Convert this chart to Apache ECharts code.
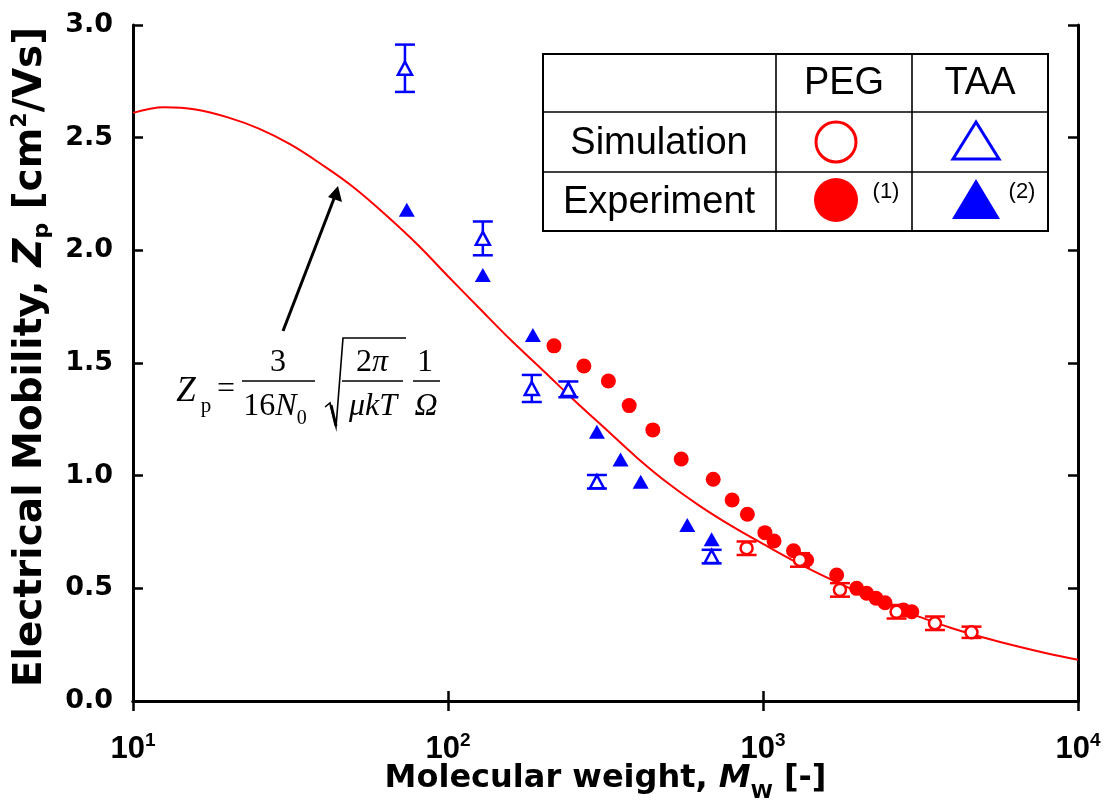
<!DOCTYPE html>
<html><head><meta charset="utf-8">
<script src="https://cdn.jsdelivr.net/npm/echarts@6/dist/echarts.min.js"></script>
<style>html,body{margin:0;padding:0;background:#fff}#c{width:1109px;height:806px}</style>
</head><body><div id="c"></div>
<script>
// ---- data ----
const curveMw = [10, 12.6, 15.8, 20, 25.1, 31.6, 39.8, 50.1, 63.1, 79.4, 100, 126, 158, 200, 251, 316, 398, 501, 631, 794, 1000, 1259, 1585, 1995, 2512, 3162, 3981, 5012, 6310, 7943, 10000];
const curveZp = [2.61, 2.635, 2.625, 2.59, 2.54, 2.47, 2.38, 2.28, 2.16, 2.03, 1.885, 1.742, 1.603, 1.468, 1.336, 1.208, 1.08, 0.965, 0.865, 0.777, 0.697, 0.62, 0.55, 0.485, 0.425, 0.372, 0.323, 0.282, 0.245, 0.212, 0.183];

const pegExpMw = [217, 270, 323, 376, 447, 550, 695, 798, 892, 1014, 1084, 1250, 1376, 1713, 1983, 2133, 2285, 2440, 2790, 2967];
const pegExpZp = [1.576, 1.487, 1.420, 1.311, 1.203, 1.074, 0.984, 0.892, 0.829, 0.747, 0.710, 0.667, 0.626, 0.559, 0.500, 0.478, 0.456, 0.436, 0.404, 0.396];

const pegSimMw = [887, 1310, 1755, 2655, 3515, 4590];
const pegSimZp = [0.678, 0.626, 0.493, 0.396, 0.345, 0.305];
const pegSimErr = [0.03, 0.03, 0.03, 0.03, 0.03, 0.025];

const taaSimMw = [73, 129, 184.5, 241, 297, 687];
const taaSimZp = [2.808, 2.053, 1.387, 1.383, 0.973, 0.641];
const taaSimErr = [0.105, 0.075, 0.06, 0.035, 0.03, 0.03];

const taaExpMw = [74, 129, 186, 241, 297, 353, 409, 575, 687];
const taaExpZp = [2.18, 1.891, 1.624, 1.387, 1.195, 1.072, 0.973, 0.781, 0.718];

// ---- build ----
const zip = (a, b, c) => a.map((v, i) => c ? [v, b[i], c[i]] : [v, b[i]]);
const RED = '#ff0000', BLUE = '#0000ff';
const AX = 'DejaVu Sans';
const LS = 'Liberation Sans';

function errBar(color) {
  return function (params, api) {
    const x = api.value(0), y = api.value(1), e = api.value(2);
    const t = api.coord([x, y + e]), b = api.coord([x, y - e]);
    const hw = 10;
    const st = { stroke: color, lineWidth: 2.5 };
    return { type: 'group', children: [
      { type: 'line', shape: { x1: t[0], y1: t[1], x2: b[0], y2: b[1] }, style: st },
      { type: 'line', shape: { x1: t[0] - hw, y1: t[1], x2: t[0] + hw, y2: t[1] }, style: st },
      { type: 'line', shape: { x1: b[0] - hw, y1: b[1], x2: b[0] + hw, y2: b[1] }, style: st }
    ] };
  };
}

const axLine = { show: true, lineStyle: { color: '#000', width: 3 } };
const axTick = { show: true, inside: true, length: 10, lineStyle: { color: '#000', width: 2.5 } };

const chart = echarts.init(document.getElementById('c'));

const T = (x, y, text, font, extra) => ({
  type: 'text', x: x, y: y,
  style: Object.assign({ text: text, font: font, fill: '#000', align: 'center', verticalAlign: 'middle' }, extra || {})
});
const L = (x1, y1, x2, y2, w) => ({ type: 'line', shape: { x1, y1, x2, y2 }, style: { stroke: '#000', lineWidth: w } });

const SF = '"Liberation Serif"';
const serif = '32px ' + SF;
const serifI = 'italic 32px ' + SF;
const frRich = {
  i: { fontFamily: SF, fontStyle: 'italic', fontSize: 32, fill: '#000' },
  r: { fontFamily: SF, fontSize: 32, fill: '#000' },
  s: { fontFamily: SF, fontSize: 20, fill: '#000', verticalAlign: 'bottom', lineHeight: 44 }
};
const TAB = '38px "Liberation Sans"';

const graphics = [
  // legend table
  { type: 'rect', shape: { x: 543, y: 54, width: 505, height: 177 }, style: { fill: '#fff', stroke: '#000', lineWidth: 2 } },
  L(776, 54, 776, 231, 1.6), L(912, 54, 912, 231, 1.6),
  L(543, 112, 1048, 112, 1.6), L(543, 172, 1048, 172, 1.6),
  T(844, 84, 'PEG', TAB),
  T(980, 84, 'TAA', TAB),
  T(659, 144, 'Simulation', TAB),
  T(659, 203, 'Experiment', TAB),
  { type: 'circle', shape: { cx: 836, cy: 142, r: 20 }, style: { fill: '#fff', stroke: RED, lineWidth: 3 } },
  { type: 'circle', shape: { cx: 836, cy: 200, r: 22 }, style: { fill: RED } },
  { type: 'polygon', shape: { points: [[976, 122], [999, 159], [953, 159]] }, style: { fill: '#fff', stroke: BLUE, lineWidth: 3 } },
  { type: 'polygon', shape: { points: [[976, 179], [1000, 219], [952, 219]] }, style: { fill: BLUE } },
  T(886, 192, '(1)', '22px "Liberation Sans"'),
  T(1022, 192, '(2)', '22px "Liberation Sans"'),
  // formula
  T(186, 392, 'Z', 'italic 35px ' + SF),
  T(206, 406, 'p', '21px ' + SF),
  T(226, 390, '=', serif),
  T(278, 363, '3', serif),
  L(242, 381, 315, 381, 1.5),
  T(275, 407, '{r|16}{i|N}{s|0}', serif, { rich: frRich }),
  { type: 'polyline', shape: { points: [[325, 407], [330, 403], [336, 427], [343, 338], [406, 338]] }, style: { stroke: '#000', lineWidth: 1.6, fill: null } },
  { type: 'line', shape: { x1: 331, y1: 405, x2: 336, y2: 426 }, style: { stroke: '#000', lineWidth: 3 } },
  T(372, 363, '{r|2}{i|π}', serif, { rich: frRich }),
  L(342, 381, 403, 381, 1.5),
  T(373, 407, 'μkT', serifI),
  T(425, 363, '1', serif),
  L(413, 381, 440, 381, 1.5),
  T(426, 407, 'Ω', serifI),
  // arrow
  L(283, 331, 335, 196, 3),
  { type: 'polygon', shape: { points: [[338, 186], [342, 202], [328, 197]] }, style: { fill: '#000' } }
];

chart.setOption({
  animation: false,
  backgroundColor: '#fff',
  grid: { left: 133, right: 31, top: 25, bottom: 105, containLabel: false, outerBoundsMode: 'none' },
  xAxis: [
    {
      type: 'log', logBase: 10, min: 10, max: 10000, position: 'bottom',
      axisLine: axLine, axisTick: axTick, splitLine: { show: false }, minorTick: { show: false },
      axisLabel: {
        margin: 30,
        formatter: v => '{b|10}{s|' + Math.round(Math.log10(v)) + '}',
        rich: {
          b: { fontFamily: LS, fontWeight: 'bold', fontSize: 31, color: '#000', verticalAlign: 'bottom', lineHeight: 34 },
          s: { fontFamily: LS, fontWeight: 'bold', fontSize: 19, color: '#000', verticalAlign: 'top', lineHeight: 34 }
        }
      },
      name: '{b|Molecular weight, }{i|M}{s|W}{b| [-]}',
      nameLocation: 'middle', nameGap: 62, nameMoveOverlap: false,
      nameTextStyle: {
        rich: {
          b: { fontFamily: AX, fontWeight: 'bold', fontSize: 32, color: '#000', lineHeight: 40, verticalAlign: 'top' },
          i: { fontFamily: AX, fontWeight: 'bold', fontStyle: 'italic', fontSize: 32, color: '#000', lineHeight: 40, verticalAlign: 'top' },
          s: { fontFamily: AX, fontWeight: 'bold', fontSize: 20, color: '#000', lineHeight: 40, verticalAlign: 'bottom' }
        }
      }
    },
    {
      type: 'log', logBase: 10, min: 10, max: 10000, position: 'top',
      axisLine: axLine, axisTick: axTick, axisLabel: { show: false }, splitLine: { show: false }
    }
  ],
  yAxis: [
    {
      type: 'value', min: 0, max: 3, interval: 0.5, position: 'left',
      axisLine: axLine, axisTick: axTick, splitLine: { show: false },
      axisLabel: { margin: 20, fontFamily: AX, fontWeight: 'bold', fontSize: 27, color: '#000', formatter: v => v.toFixed(1) },
      name: '{b|Electrical Mobility, }{i|Z}{s|p}{b| [cm}{u|2}{b|/Vs]}',
      nameLocation: 'middle', nameGap: 80,
      nameTextStyle: {
        padding: [0, 0, 0, 12],
        rich: {
          b: { fontFamily: AX, fontWeight: 'bold', fontSize: 39, color: '#000', lineHeight: 44, verticalAlign: 'middle' },
          i: { fontFamily: AX, fontWeight: 'bold', fontStyle: 'italic', fontSize: 39, color: '#000', lineHeight: 44, verticalAlign: 'middle' },
          s: { fontFamily: AX, fontWeight: 'bold', fontSize: 22, color: '#000', lineHeight: 44, verticalAlign: 'bottom' },
          u: { fontFamily: AX, fontWeight: 'bold', fontSize: 22, color: '#000', lineHeight: 44, verticalAlign: 'top' }
        }
      }
    },
    {
      type: 'value', min: 0, max: 3, interval: 0.5, position: 'right',
      axisLine: axLine, axisTick: axTick, axisLabel: { show: false }, splitLine: { show: false }
    }
  ],
  series: [
    { type: 'line', data: zip(curveMw, curveZp), smooth: 0.4, showSymbol: false, lineStyle: { color: RED, width: 2 }, z: 2 },
    { type: 'scatter', data: zip(taaExpMw, taaExpZp), symbol: 'triangle', symbolSize: [16, 14], itemStyle: { color: BLUE, opacity: 1 }, z: 3 },
    { type: 'scatter', data: zip(pegExpMw, pegExpZp), symbol: 'circle', symbolSize: 15, itemStyle: { color: RED, opacity: 1 }, z: 3 },
    { type: 'custom', data: zip(taaSimMw, taaSimZp, taaSimErr), renderItem: errBar(BLUE), z: 4 },
    { type: 'custom', data: zip(pegSimMw, pegSimZp, pegSimErr), renderItem: errBar(RED), z: 4 },
    { type: 'scatter', data: zip(taaSimMw, taaSimZp), symbol: 'triangle', symbolSize: [14, 13], itemStyle: { color: '#fff', borderColor: BLUE, borderWidth: 2.5, opacity: 1 }, z: 5 },
    { type: 'scatter', data: zip(pegSimMw, pegSimZp), symbol: 'circle', symbolSize: 12, itemStyle: { color: '#fff', borderColor: RED, borderWidth: 2.5, opacity: 1 }, z: 5 }
  ],
  graphic: graphics
});
</script>
</body></html>
